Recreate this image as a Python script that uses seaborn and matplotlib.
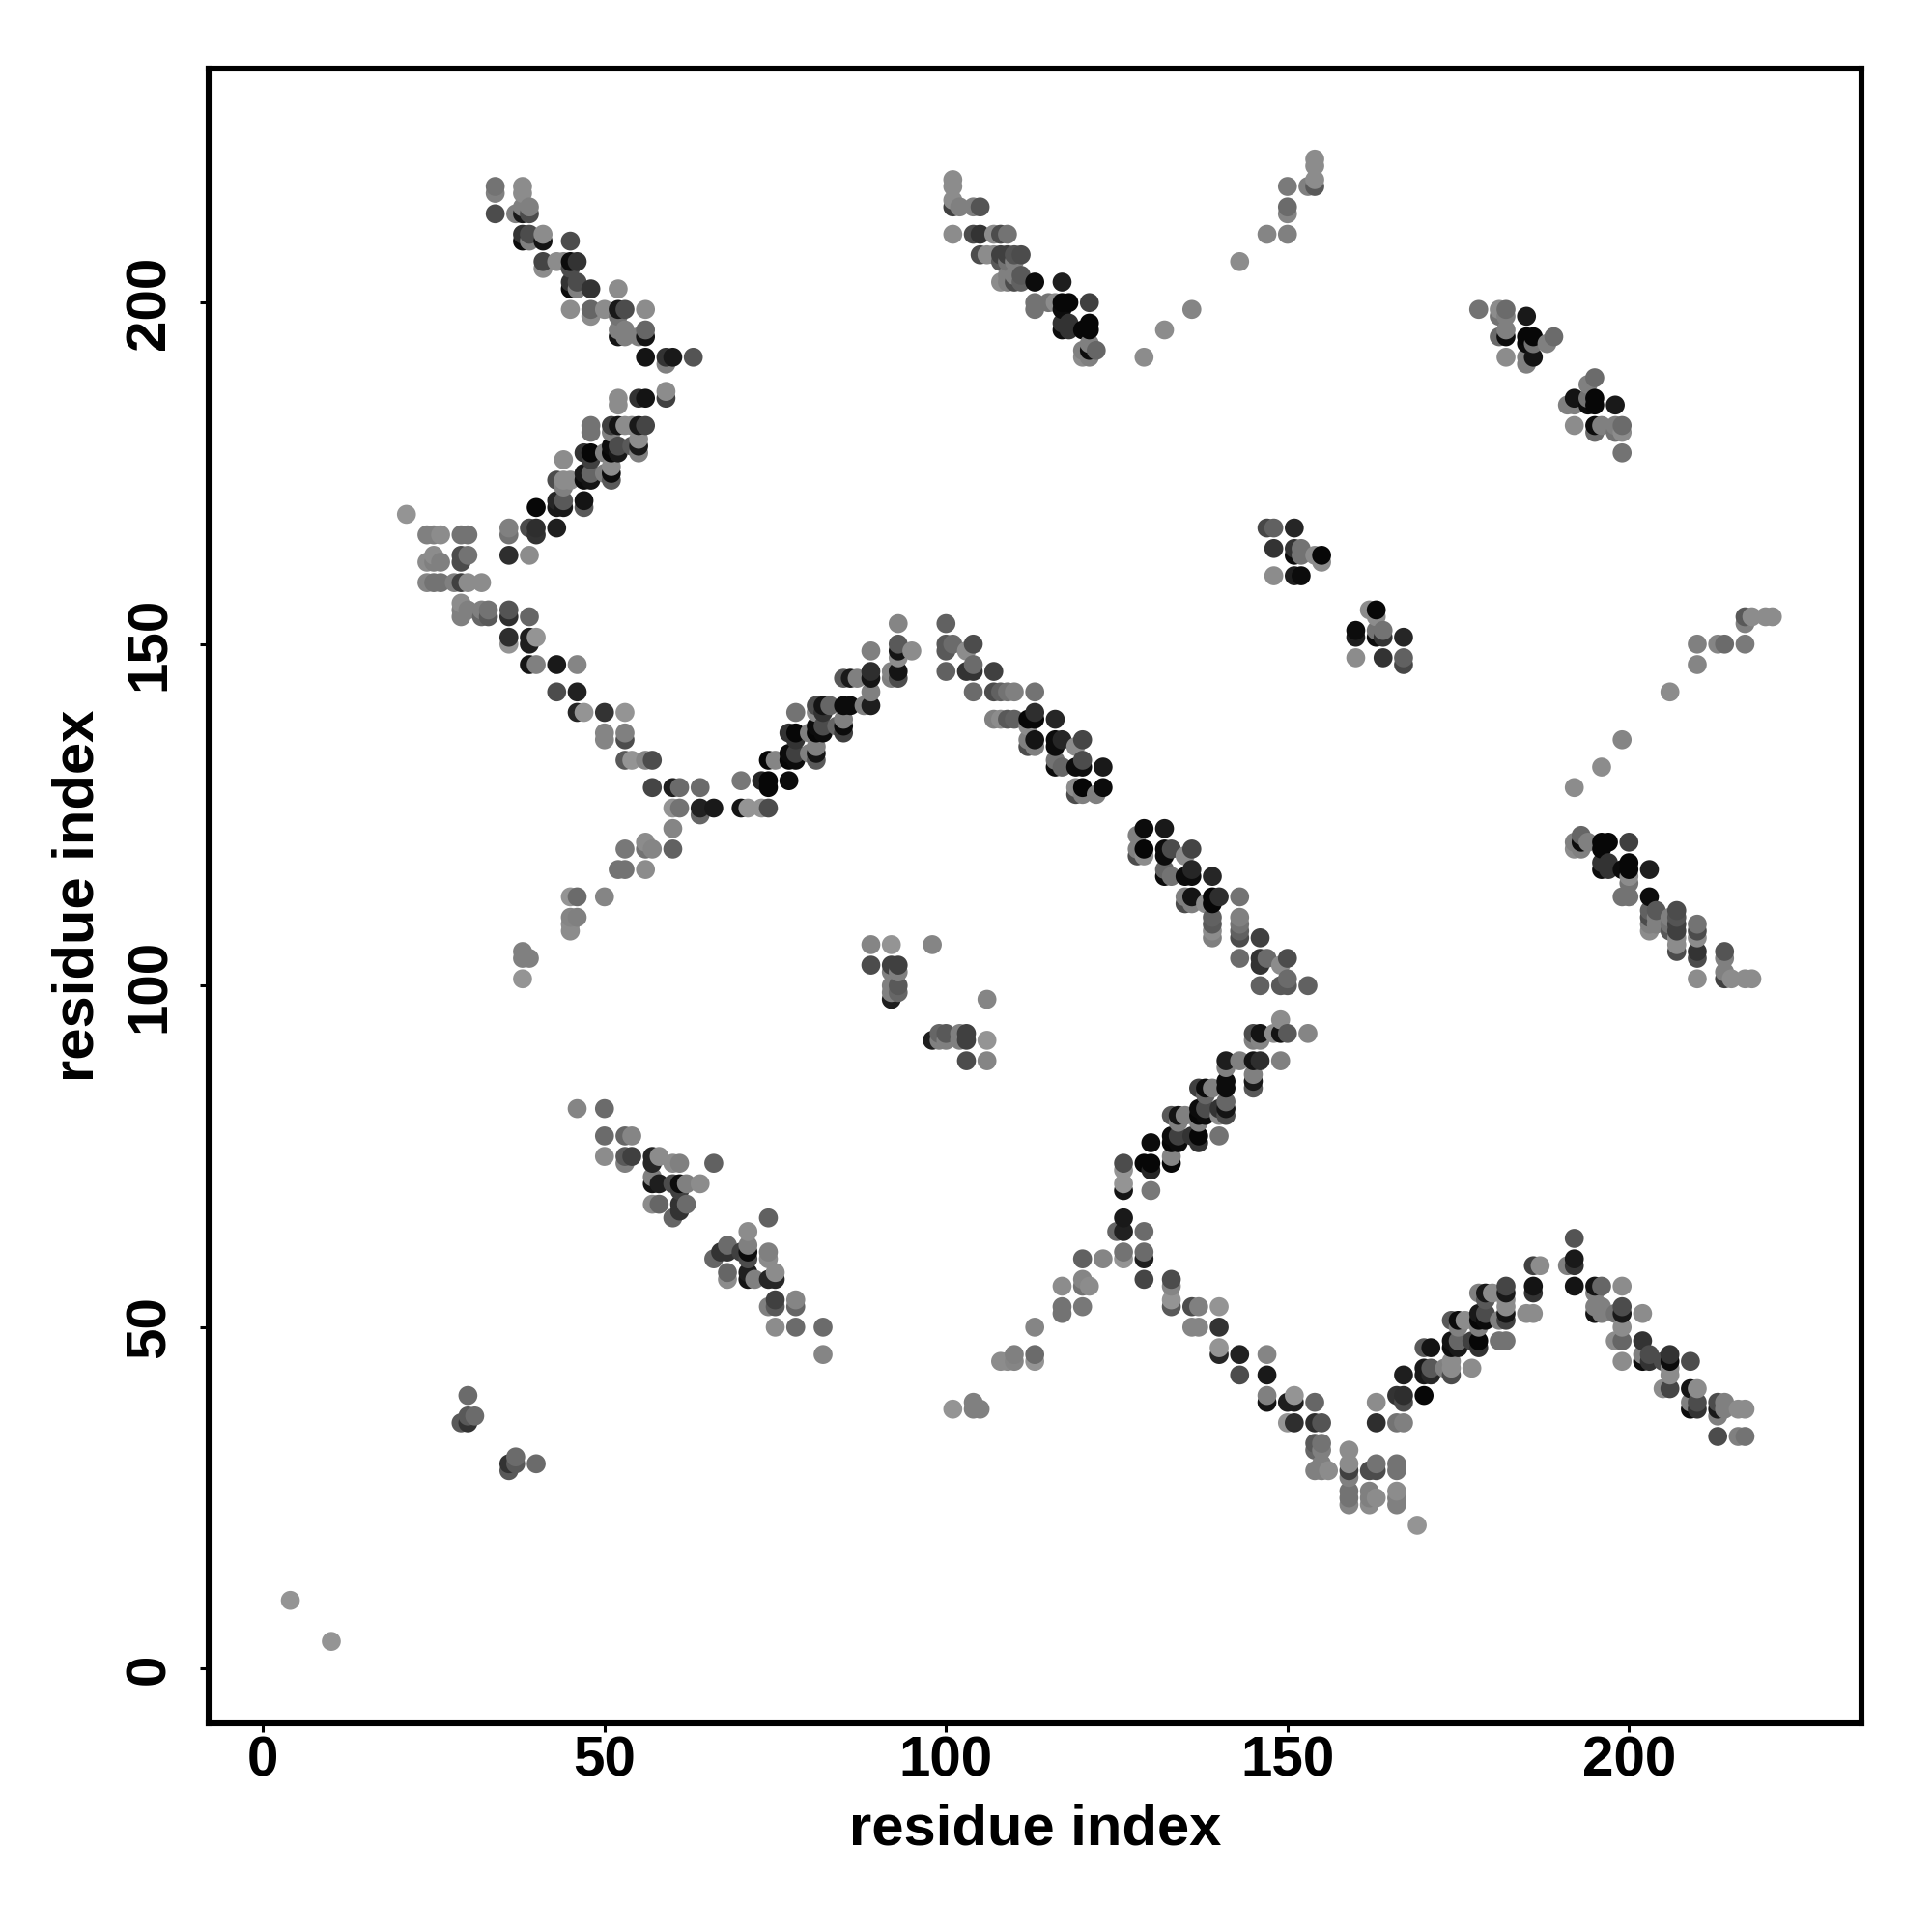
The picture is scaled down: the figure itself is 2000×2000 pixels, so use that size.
import numpy as np
import pandas as pd
import seaborn as sns
import matplotlib.pyplot as plt

# contacts below the diagonal, one row per residue i, mirrored further down
res_i = [10, 36, 37, 40, 66, 67, 68, 70, 71, 72, 74, 75, 78, 82, 98, 99, 100, 101, 102, 103, 104, 105, 106,
         108, 109, 110, 113, 117, 120, 121, 123, 125, 126, 128, 129, 130, 132,
         133, 134, 135, 136, 137, 138, 139, 140, 141, 143, 145, 146,
         147, 148, 149, 150, 151, 153, 154, 155, 156, 159, 160, 162,
         163, 164, 166, 167, 169, 170, 171, 173, 174, 175, 176, 177,
         178, 179, 180, 181, 182, 185, 186, 187, 191, 192, 193, 194,
         195, 196, 197, 198, 199, 200, 202, 203, 204, 205, 206, 207,
         209, 210, 213, 214, 215, 216, 217, 218, 220, 221]

res_j = [[4], [29, 30], [30, 31], [30],
         [60], [61], [57, 58, 61, 62], [61], [57, 58, 60, 61, 62, 64], [57],
         [53, 57, 60, 61, 66], [50, 53, 54, 57, 58], [50, 53, 54], [46, 50],
         [92], [92, 93], [92, 93], [38], [92, 93], [89, 92, 93],
         [38, 39], [38], [89, 92, 98],
         [45], [45], [45, 46], [45, 46, 50], [52, 53, 56], [53, 56, 57, 60], [56], [60], [64],
         [60, 61, 64, 66, 70, 71, 73, 74], [119, 120, 122],
         [57, 60, 61, 64, 74, 119, 120, 123], [70, 73, 74, 77], [116, 117, 119, 120, 123],
         [53, 54, 56, 57, 74, 75, 77, 78, 81, 116, 120], [77, 78, 80, 81], [81, 112, 113, 116, 119],
         [50, 53, 78, 112, 113, 116, 117, 120],
         [50, 53, 77, 78, 80, 81, 82, 85], [81, 82, 84, 85, 112],
         [85, 107, 108, 109, 110, 112, 113, 116],
         [46, 47, 50, 53, 78, 81, 82, 113], [81, 82, 83, 85, 86, 88, 89],
         [43, 46, 89, 104, 107, 108, 109, 110, 113],
         [85, 86, 87, 89, 92, 93], [89, 92, 93, 100, 103, 104, 107],
         [39, 40, 43, 46, 104], [93], [89, 93, 95, 100, 103], [36, 39, 93, 100, 101, 104],
         [36, 39, 40], [93, 100], [29, 32, 33, 36, 39], [29, 30, 32, 33, 36], [29],
         [24, 25, 26, 28, 29, 30, 32], [148, 151, 152], [24, 25, 26, 29, 155],
         [25, 29, 30, 36, 39, 151, 152, 154, 155], [148, 151, 152],
         [24, 25, 26, 29, 30, 36, 40], [36, 39, 40, 43, 147, 148, 151], [21],
         [40, 43, 44, 47], [43, 44, 47], [44], [43, 44, 45, 47, 48, 51], [47, 48, 50, 51],
         [51], [44, 48], [47, 48, 50, 51, 52, 55], [51, 52, 54, 55], [55], [48, 51],
         [48, 51, 52, 53, 54, 55, 56], [52], [52, 55, 56, 59], [59], [59, 185],
         [56, 59, 60, 63, 120, 121, 129, 182, 185, 186], [120, 121, 122],
         [121, 185, 186, 188], [52, 53, 55, 56, 181, 182, 185, 186, 189],
         [52, 53, 56, 117, 118, 120, 121, 132, 182], [117, 118, 121],
         [48, 52, 181, 182, 185],
         [45, 48, 50, 52, 53, 56, 113, 117, 136, 178, 181, 182],
         [113, 115, 116, 117, 118, 121], [45, 46, 48, 52],
         [45, 46, 108, 109, 110, 111, 113, 117], [109, 110, 111], [41, 45],
         [41, 43, 44, 45, 46, 108, 109, 110, 143], [105, 106, 107, 108, 109, 110, 111],
         [38, 39, 41, 45], [38, 39, 41, 101, 104, 105, 107, 108, 109, 147, 150],
         [34, 37, 38, 39, 150], [38, 39, 101, 102, 104, 105, 150], [101], [34, 38],
         [34, 38, 101, 150, 153, 154], [101, 154], [154], [154]]

shade = [[.58], [.35, .2], [.35, .42], [.42],
         [.4], [.2], [.55, .4, .2, .42], [.25], [.08, .12, .3, .05, .5, .55], [.5],
         [.5, .15, .55, .5, .38], [.55, .35, .25, .15, .55], [.42, .4, .52], [.52, .42],
         [.12], [.5, .4], [.5, .35], [.58], [.5, .5], [.3, .25, .25],
         [.5, .5], [.5], [.52, .58, .52],
         [.55], [.55], [.52, .5], [.58, .42, .52], [.45, .45, .55], [.47, .45, .52, .38], [.55], [.52], [.4],
         [.58, .45, .13, .1, .08, .58, .58, .3], [.3, .5, .5],
         [.27, .12, .42, .42, .03, .55, .03, .05], [.47, .15, .03, .05], [.05, .4, .05, .05, .1],
         [.35, .58, .52, .3, .03, .52, .03, .05, .35, .45, .3], [.05, .25, .5, .08], [.5, .3, .5, .05, .55],
         [.52, .3, .2, .5, .08, .05, .15, .27],
         [.52, .5, .2, .03, .5, .03, .05, .25], [.05, .3, .4, .05, .55],
         [.5, .5, .55, .35, .38, .03, .03, .15],
         [.15, .58, .2, .58, .45, .55, .2, .18], [.3, .08, .4, .05, .05, .5, .12],
         [.3, .13, .5, .42, .3, .38, .45, .5, .45],
         [.35, .1, .5, .08, .5, .3], [.18, .52, .08, .38, .2, .2, .25],
         [.08, .5, .1, .52, .42], [.55], [.5, .08, .55, .35, .55], [.58, .12, .35, .35, .42, .3],
         [.18, .12, .58], [.52, .38], [.5, .4, .35, .18, .4], [.5, .5, .5, .45, .33], [.55],
         [.52, .45, .45, .5, .25, .55, .55], [.55, .12, .05], [.55, .5, .5, .3, .55],
         [.55, .3, .45, .18, .55, .05, .45, .55, .03], [.2, .2, .45],
         [.5, .5, .55, .45, .45, .45, .2], [.5, .3, .18, .12, .28, .38, .15], [.58],
         [.03, .1, .1, .35], [.15, .35, .08], [.5], [.3, .55, .55, .05, .08, .35], [.1, .4, .5, .05],
         [.55], [.55, .25], [.2, .03, .5, .03, .1, .5], [.05, .3, .35, .1], [.55], [.45, .5],
         [.45, .25, .08, .55, .55, .1, .27], [.55], [.55, .2, .08, .25], [.55], [.5, .5],
         [.08, .2, .1, .33, .55, .5, .55, .55, .5, .08], [.5, .05, .4],
         [.5, .05, .45, .5], [.08, .5, .5, .08, .42, .05, .03, .03, .42],
         [.5, .5, .4, .05, .2, .03, .03, .55, .5], [.2, .2, .03],
         [.55, .45, .45, .5, .1],
         [.55, .4, .55, .1, .3, .55, .45, .05, .52, .45, .55, .42],
         [.45, .45, .55, .03, .03, .25], [.05, .5, .2, .55],
         [.2, .3, .55, .5, .3, .38, .05, .12], [.5, .5, .35], [.55, .3],
         [.27, .55, .55, .05, .2, .35, .45, .5, .55], [.3, .55, .55, .25, .25, .33, .3],
         [.05, .5, .08, .3], [.2, .3, .55, .55, .3, .2, .55, .3, .45, .52, .5],
         [.3, .5, .1, .3, .52], [.5, .5, .25, .5, .5, .33, .42], [.55], [.5, .55],
         [.45, .55, .55, .48, .5, .35], [.55, .55], [.55], [.55]]

ticks = [0, 50, 100, 150, 200]
axis_label = 'residue index'

lower = pd.DataFrame({'i': res_i, 'j': res_j, 'shade': shade}).explode(['j', 'shade'])
lower = lower.astype(float)
upper = lower.rename(columns={'i': 'j', 'j': 'i'})
df = pd.concat([lower, upper]).sort_values(['i', 'j']).reset_index(drop=True)

sns.set_style('white')
plt.rcParams['font.family'] = ['Liberation Sans', 'DejaVu Sans']
plt.rcParams['font.weight'] = 'bold'
plt.rcParams['axes.labelweight'] = 'bold'

fig = plt.figure(figsize=(10, 10), dpi=200)
ax = fig.add_axes([0.108, 0.108, 0.8555, 0.8563])

sns.scatterplot(data=df, x='i', y='j', hue='shade', palette='gray', hue_norm=(0, 1),
                s=50, linewidth=0, legend=False, ax=ax)

ax.set_xlim(-7.96, 234.05)
ax.set_ylim(-8.0, 234.2)
ax.set_xticks(ticks)
ax.set_yticks(ticks)
ax.set_xlabel(axis_label, fontsize=21.5, labelpad=5.6, color='black')
ax.set_ylabel(axis_label, fontsize=21.5, labelpad=7, color='black')
ax.tick_params(axis='both', which='major', bottom=True, left=True, length=3.1, width=1.1,
               color='black', labelsize=21, labelcolor='black')
ax.tick_params(axis='x', pad=1.5)
ax.tick_params(axis='y', labelrotation=90, pad=9)
for lab in ax.get_yticklabels():
    lab.set_verticalalignment('center')
for s in ax.spines.values():
    s.set_visible(True)
    s.set_linewidth(2.2)
    s.set_color('black')

fig.savefig('out.png', dpi=200)
